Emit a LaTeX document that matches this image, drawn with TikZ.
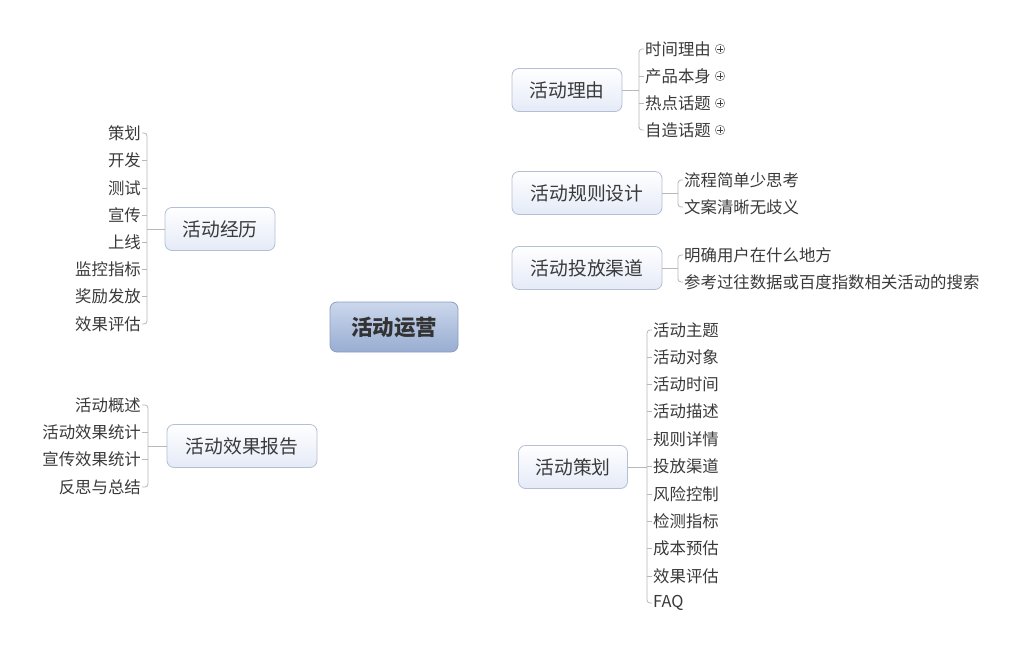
\documentclass[tikz,border=0pt]{standalone}
\usepackage{fontspec}
\setmainfont{Noto Sans CJK SC}
\usetikzlibrary{backgrounds}
\definecolor{txt}{HTML}{3A3A3A}
\definecolor{topicborder}{HTML}{B4BED4}
\definecolor{topicfill}{HTML}{E4EAF7}
\definecolor{centertop}{HTML}{CBD7EC}
\definecolor{centerbot}{HTML}{98ADD2}
\definecolor{centerborder}{HTML}{8C9DBE}
\definecolor{brk}{HTML}{B8B8B8}
\definecolor{curve}{HTML}{CACBD2}
\tikzset{
 topic/.style={draw=topicborder, line width=0.8pt, rounded corners=7pt, top color=white, bottom color=topicfill, minimum height=43pt, inner xsep=0pt, font=\fontsize{18.8}{21}\selectfont, text=txt},
 central/.style={draw=centerborder, line width=0.8pt, rounded corners=7pt, top color=centertop, bottom color=centerbot, minimum height=50pt, minimum width=128pt, font=\fontsize{21.5}{23}\selectfont\bfseries, text=black!80},
 sub/.style={font=\fontsize{16.4}{18}\selectfont, text=txt, inner sep=1pt},
 bracket/.style={draw=brk, line width=0.8pt, rounded corners=3pt},
 branch/.style={draw=curve, line width=2pt, line cap=round},
 plusicon/.style={circle, draw=gray, line width=0.6pt, minimum size=9.5pt, inner sep=0pt, fill=white}
}
\begin{document}
\begin{tikzpicture}[x=1pt,y=-1pt]
\useasboundingbox (0,0) rectangle (1020,653);
\fill[white] (0,0) rectangle (1020,653);

% central
\node[central] (c) at (394,327) {活动运营};

% main topics
\node[topic, minimum width=110pt] (t1) at (567,90) {活动理由};
\node[topic, minimum width=150pt] (t2) at (587,193) {活动规则设计};
\node[topic, minimum width=150pt] (t3) at (587,268) {活动投放渠道};
\node[topic, minimum width=109pt] (t4) at (573,467) {活动策划};
\node[topic, minimum width=110pt] (t5) at (220,229) {活动经历};
\node[topic, minimum width=150pt] (t6) at (242,446) {活动效果报告};

% branches
\begin{scope}[on background layer]
\draw[branch] (c.center) .. controls (425,150) and (455,90) .. (t1.west);
\draw[branch] (c.center) .. controls (430,225) and (465,193) .. (t2.west);
\draw[branch] (c.center) .. controls (440,280) and (470,268) .. (t3.west);
\draw[branch] (c.center) .. controls (425,440) and (470,467) .. (t4.west);
\draw[branch] (c.center) .. controls (360,245) and (320,229) .. (t5.east);
\draw[branch] (c.center) .. controls (370,425) and (350,446) .. (t6.east);
\end{scope}

% 活动理由 subtopics
\node[sub, anchor=west] (a1) at (644,49) {时间理由};
\node[sub, anchor=west] (a2) at (644,76) {产品本身};
\node[sub, anchor=west] (a3) at (644,103) {热点话题};
\node[sub, anchor=west] (a4) at (644,130) {自造话题};
\foreach \i in {1,...,4}{
  \node[plusicon] (p\i) at ([xshift=8pt]a\i.east) {};
  \draw[black!75, line width=0.8pt] ([xshift=-2.6pt]p\i.center) -- ([xshift=2.6pt]p\i.center)
        ([yshift=-2.6pt]p\i.center) -- ([yshift=2.6pt]p\i.center);
}
\coordinate (ab) at (639,90);
\draw[bracket] (t1.east) -- (ab);
\draw[bracket] (a1.west) -| (ab) |- (a4.west);
\draw[bracket] (a2.west) -- (a2.west -| ab);
\draw[bracket] (a3.west) -- (a3.west -| ab);

% 活动规则设计 subtopics
\node[sub, anchor=west] (b1) at (683,180) {流程简单少思考};
\node[sub, anchor=west] (b2) at (683,207) {文案清晰无歧义};
\coordinate (bb) at (678,193);
\draw[bracket] (t2.east) -- (bb);
\draw[bracket] (b1.west) -| (bb) |- (b2.west);

% 活动投放渠道 subtopics
\node[sub, anchor=west] (d1) at (683,255) {明确用户在什么地方};
\node[sub, anchor=west] (d2) at (683,282) {参考过往数据或百度指数相关活动的搜索};
\coordinate (db) at (678,268);
\draw[bracket] (t3.east) -- (db);
\draw[bracket] (d1.west) -| (db) |- (d2.west);

% 活动策划 subtopics
\node[sub, anchor=west] (e1) at (652,330) {活动主题};
\node[sub, anchor=west] (e2) at (652,357) {活动对象};
\node[sub, anchor=west] (e3) at (652,384) {活动时间};
\node[sub, anchor=west] (e4) at (652,411) {活动描述};
\node[sub, anchor=west] (e5) at (652,439) {规则详情};
\node[sub, anchor=west] (e6) at (652,466) {投放渠道};
\node[sub, anchor=west] (e7) at (652,494) {风险控制};
\node[sub, anchor=west] (e8) at (652,521) {检测指标};
\node[sub, anchor=west] (e9) at (652,548) {成本预估};
\node[sub, anchor=west] (e10) at (652,576) {效果评估};
\node[sub, anchor=west] (e11) at (652,603) {FAQ};
\coordinate (eb) at (647,467);
\draw[bracket] (t4.east) -- (eb);
\draw[bracket] (e1.west) -| (eb) |- (e11.west);
\foreach \i in {2,...,10}{
  \draw[bracket] (e\i.west) -- (e\i.west -| eb);
}

% 活动经历 subtopics
\node[sub, anchor=east] (f1) at (142,133) {策划};
\node[sub, anchor=east] (f2) at (142,160) {开发};
\node[sub, anchor=east] (f3) at (142,188) {测试};
\node[sub, anchor=east] (f4) at (142,215) {宣传};
\node[sub, anchor=east] (f5) at (142,242) {上线};
\node[sub, anchor=east] (f6) at (142,269) {监控指标};
\node[sub, anchor=east] (f7) at (142,296) {奖励发放};
\node[sub, anchor=east] (f8) at (142,324) {效果评估};
\coordinate (fb) at (147,229);
\draw[bracket] (t5.west) -- (fb);
\draw[bracket] (f1.east) -| (fb) |- (f8.east);
\foreach \i in {2,...,7}{
  \draw[bracket] (f\i.east) -- (f\i.east -| fb);
}

% 活动效果报告 subtopics
\node[sub, anchor=east] (g1) at (142,405) {活动概述};
\node[sub, anchor=east] (g2) at (142,432) {活动效果统计};
\node[sub, anchor=east] (g3) at (142,459) {宣传效果统计};
\node[sub, anchor=east] (g4) at (142,487) {反思与总结};
\coordinate (gb) at (148,446);
\draw[bracket] (t6.west) -- (gb);
\draw[bracket] (g1.east) -| (gb) |- (g4.east);
\draw[bracket] (g2.east) -- (g2.east -| gb);
\draw[bracket] (g3.east) -- (g3.east -| gb);
\end{tikzpicture}
\end{document}
